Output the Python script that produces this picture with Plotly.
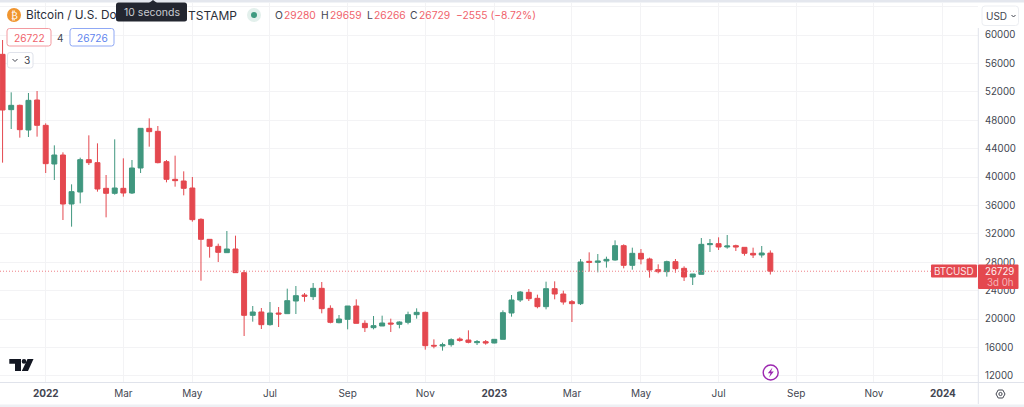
import pandas as pd
import plotly.graph_objects as go

dates = pd.date_range("2021-11-29", periods=90, freq="7D")
opens = [57277,49484,50094,46619,50845,47277,41830,43098,36197,37886,
         42441,42019,38403,37699,38403,37746,41267,46854,46432,42159,
         39671,39436,38450,34037,31220,30234,29342,29859,26526,20516,
         20986,19201,20845,20751,22534,23379,23144,24318,21501,19482,
         19952,21830,19389,18778,19013,19435,19248,19529,20609,20938,
         16290,16196,16384,17182,17041,16665,16806,16618,17135,20844,
         22675,23755,22910,21736,24271,23520,22440,22159,28122,27980,
         28168,28309,30328,27558,29248,28450,26947,26666,28074,27135,
         25914,26290,30469,30610,30140,30328,30093,29248,29013,29280]
highs = [59296,51925,50190,51831,52113,47559,44460,43474,38966,42723,
         45868,44742,40281,45305,42629,42394,46854,48263,47183,42394,
         43004,40797,39999,34178,31220,30610,32393,31736,26900,21830,
         21548,22392,21689,24271,24647,23661,25070,25210,21924,20562,
         21830,22769,19811,20421,20468,20046,19670,21032,21501,21032,
         17135,16665,17276,17417,18403,17041,17041,17135,21220,23379,
         23943,24224,23426,25257,25304,23990,22675,28450,29389,29154,
         28779,31079,30516,30046,29858,28638,27699,28215,28450,27417,
         26337,31408,31267,31502,31830,30469,30093,30046,30281,29659]
lows = [42018,46760,45540,45633,45680,40563,39577,33943,33004,36290,
        41690,37933,34319,37512,37230,37605,40563,44272,41924,39248,
        38638,37418,33708,25397,28637,28028,29295,26526,17605,19623,
        18591,19060,18873,20751,20703,22440,22675,20797,19389,19389,
        18543,19389,18168,18543,19013,18168,18684,19248,20046,15679,
        15867,15539,16102,16806,16571,16337,16384,16571,17135,20328,
        22393,22534,21501,21361,22769,22018,19576,21971,26666,26572,
        27229,28215,27135,26948,27699,25821,26431,25961,26525,25351,
        24788,26290,29436,29717,29905,29576,28919,28591,28638,26266]
closes = [49436,50094,46666,50798,47277,41877,43098,36197,37933,42441,
          42019,38309,37699,38450,37746,41267,46854,46385,42019,39671,
          39483,38403,33990,31220,30234,29389,29859,26526,20516,20986,
          19201,20845,20704,22581,23285,23191,24318,21454,19529,20000,
          21830,19389,18778,19060,19435,19295,19576,20609,20938,16243,
          16196,16384,17088,16994,16712,16806,16618,17135,20891,22675,
          23802,22863,21736,24271,23520,22393,22159,28028,27980,28168,
          28403,30328,27558,29248,28450,26900,26666,28074,27088,25914,
          26337,30516,30610,30140,30281,30140,29248,29013,29295,26729]

tick_dates = ["2022-01-03","2022-03-07","2022-05-02","2022-07-04","2022-09-05","2022-11-07",
              "2023-01-02","2023-03-06","2023-05-01","2023-07-03","2023-09-04","2023-11-06","2024-01-01"]
tick_labels = ["<b>2022</b>","Mar","May","Jul","Sep","Nov","<b>2023</b>","Mar","May","Jul","Sep","Nov","<b>2024</b>"]
price_ticks = [12000,16000,20000,24000,28000,32000,36000,40000,44000,48000,52000,56000,60000,64000]
price_labels = [str(p) if p < 64000 else "" for p in price_ticks]
last_price = 26729

RED = "#e4484f"; GREEN = "#40977f"; GRID = "#f3f3f5"; TXT = "#434651"; EDGE = "#e0e3eb"
LABEL_RED = "#f0626b"; FONT = "Inter"
W, H, L, R, T, B = 1024, 407, 0, 46, 3, 25
PW, PH = W - L - R, H - T - B

def fx(x): return (x - L) / PW
def fy(y): return 1 - (y - T) / PH

fig = go.Figure(go.Candlestick(
    x=dates, open=opens, high=highs, low=lows, close=closes,
    increasing=dict(line=dict(color=GREEN, width=1), fillcolor=GREEN),
    decreasing=dict(line=dict(color=RED, width=1), fillcolor=RED),
    whiskerwidth=0, hoverinfo="skip", showlegend=False))

shapes = []
def rrect(x0, y0, x1, y1, r=2.5, fill="white", line=None, lw=1):
    a, b, c, d = fx(x0), fx(x1), fy(y0), fy(y1)
    rx, ry = r / PW, r / PH
    p = (f"M{a+rx},{c} L{b-rx},{c} Q{b},{c} {b},{c-ry} L{b},{d+ry} Q{b},{d} {b-rx},{d} "
         f"L{a+rx},{d} Q{a},{d} {a},{d+ry} L{a},{c-ry} Q{a},{c} {a+rx},{c} Z")
    shapes.append(dict(type="path", xref="paper", yref="paper", path=p, fillcolor=fill,
                       line=dict(color=line or fill, width=lw if line else 0), layer="above"))
def poly(pts, fill="black", line=None, lw=0, close=True):
    p = "M" + " L".join(f"{fx(x)},{fy(y)}" for x, y in pts) + (" Z" if close else "")
    shapes.append(dict(type="path", xref="paper", yref="paper", path=p,
                       fillcolor=fill if close else "rgba(0,0,0,0)",
                       line=dict(color=line or fill, width=lw), layer="above"))
def circle(cx, cy, r, fill, line=None, lw=0):
    shapes.append(dict(type="circle", xref="paper", yref="paper", x0=fx(cx-r), x1=fx(cx+r),
                       y0=fy(cy+r), y1=fy(cy-r), fillcolor=fill,
                       line=dict(color=line or fill, width=lw), layer="above"))
def hline(x0, x1, y, color=EDGE, width=1):
    shapes.append(dict(type="line", xref="paper", yref="paper", x0=fx(x0), x1=fx(x1), y0=fy(y), y1=fy(y),
                       line=dict(color=color, width=width), layer="above"))
def vline(x, y0, y1, color=EDGE, width=1):
    shapes.append(dict(type="line", xref="paper", yref="paper", x0=fx(x), x1=fx(x), y0=fy(y0), y1=fy(y1),
                       line=dict(color=color, width=width), layer="above"))

anns = []
def text(x, y, s, size=11, color=TXT, anchor="left", font=FONT):
    anns.append(dict(xref="paper", yref="paper", x=fx(x), y=fy(y), text=s, showarrow=False,
                     xanchor=anchor, yanchor="middle", borderpad=0,
                     font=dict(family=font, size=size, color=color)))

# frame
rrect(-2, -4, 1026, 2.5, r=0, fill="#e4e7ee")
rrect(-2, 404.5, 1026, 409, r=0, fill="#eef0f4")
hline(0, 1024, 382.5)
vline(978.3, 28, 404)

# last-price line
shapes.append(dict(type="line", xref="paper", yref="y", x0=0, x1=fx(931), y0=last_price, y1=last_price,
                   line=dict(color="#ef7f86", width=1, dash="1px,2px"), layer="above"))

# header
circle(14, 15, 7, "#f0952f")
text(14, 15, "₿", 10, "white", "center", "DejaVu Sans")
text(25, 15, "Bitcoin / U.S. Do", 11.8, "#2a2e39")
text(187, 15, "TSTAMP", 12, "#2a2e39")
rrect(116, 2.5, 187, 21.5, r=2.5, fill="#232630")
poly([(149, 3), (153, 0), (157, 3)], fill="#232630")
text(151.5, 12, "10 seconds", 10.5, "#c9cbd1", "center")
circle(254, 15, 7, "#e3f0ec")
circle(254, 15, 3, "#3f9a80")
for lx, vx, lab, val in [(274, 283, "O", "29280"), (320, 329, "H", "29659"),
                         (365.5, 372.5, "L", "26266"), (409, 417.5, "C", "26729")]:
    text(lx, 15.5, lab, 10.3, TXT)
    text(vx, 15.5, val, 10.3, LABEL_RED)
text(455, 15.5, "−2555 (−8.72%)", 10.3, LABEL_RED)

# bid/ask
rrect(7, 28.5, 51, 46, fill="white", line="#f39aa0")
text(29, 37.5, "26722", 10.2, LABEL_RED, "center")
text(60, 37.5, "4", 10, TXT, "center")
rrect(70, 28.5, 114, 46, fill="white", line="#8fa8f5")
text(92, 37.5, "26726", 10.2, "#5f85ee", "center")
rrect(7.5, 52.5, 33, 68, fill="white", line=EDGE)
poly([(12.5, 59), (15, 61.5), (17.5, 59)], fill="rgba(0,0,0,0)", line=TXT, lw=1, close=False)
text(26.5, 60.5, "3", 10.2, TXT, "center")

# currency
rrect(982, 6, 1018.5, 25.5, r=3, fill="white", line="#eceef2")
text(985, 16, "USD", 10, TXT)
poly([(1011.5, 15), (1013.5, 17), (1015.5, 15)], fill="rgba(0,0,0,0)", line=TXT, lw=1, close=False)

# price labels
rrect(931, 264.5, 977, 277.5, r=1, fill=RED)
text(954, 271, "BTCUSD", 9.8, "#fbe4e5", "center")
rrect(978, 264.5, 1018.5, 289, r=1, fill=RED)
text(999.5, 271, "26729", 9.7, "#fdeeee", "center")
text(999.5, 282.5, "3d 0h", 9.7, "#f6b5b8", "center")

# TradingView mark
poly([(9.3, 359), (21, 359), (21, 371), (15, 371), (15, 363.7), (9.3, 363.7)], fill="#131722")
circle(24, 361.4, 2.3, "#131722")
poly([(27.5, 359), (33.5, 359), (28, 371), (21.8, 371)], fill="#131722")

# purple flash badge
circle(770.7, 372.5, 7.5, "white", "#9c27b0", 1.4)
poly([(772.5, 367.5), (767.8, 373.2), (770.5, 373.2), (769, 377.5), (773.8, 371.6), (771, 371.6)], fill="#9c27b0")

# settings
poly([(996, 394), (998.2, 390), (1002.8, 390), (1005, 394), (1002.8, 398), (998.2, 398)],
     fill="white", line=TXT, lw=1)
circle(1000.5, 394, 1.6, "white", TXT, 1)

fig.update_layout(
    width=W, height=H, margin=dict(l=L, r=R, t=T, b=B, pad=0),
    paper_bgcolor="white", plot_bgcolor="white", showlegend=False, hovermode=False,
    font=dict(family=FONT, size=10, color=TXT), boxgap=0.18,
    shapes=shapes, annotations=anns,
    xaxis=dict(type="date", range=["2021-11-26 22:00", "2024-01-29 12:00"],
               tickmode="array", tickvals=tick_dates, ticktext=tick_labels,
               showgrid=True, gridcolor=GRID, gridwidth=1, ticks="", showline=False, zeroline=False,
               rangeslider=dict(visible=False), tickfont=dict(family=FONT, size=10, color=TXT),
               ticklabelstandoff=4),
    yaxis=dict(side="right", range=[11126, 64507], tickmode="array", tickvals=price_ticks,
               ticktext=price_labels, showgrid=True, gridcolor=GRID, gridwidth=1, ticks="",
               showline=False, zeroline=False, tickfont=dict(family=FONT, size=9.7, color=TXT),
               ticklabelstandoff=6),
)
fig.write_html("out.html", config=dict(displayModeBar=False),
               post_script="document.body.style.margin='0';document.body.style.overflow='hidden';")
